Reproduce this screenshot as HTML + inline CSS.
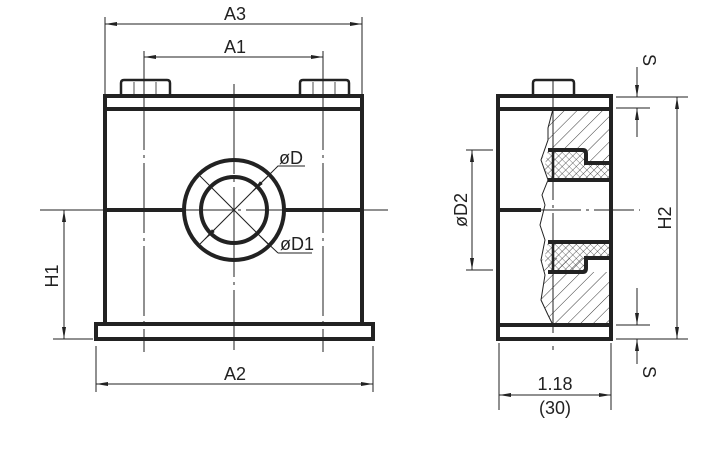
<!DOCTYPE html>
<html><head><meta charset="utf-8"><style>
html,body{margin:0;padding:0;background:#fff;}
svg{display:block;}
text{font-family:"Liberation Sans",sans-serif;fill:#222;}
</style></head><body>
<svg width="722" height="461" viewBox="0 0 722 461" xmlns="http://www.w3.org/2000/svg">
<defs>
<pattern id="h1" width="9" height="9" patternUnits="userSpaceOnUse" patternTransform="rotate(45)">
<line x1="0" y1="0" x2="0" y2="9" stroke="#222" stroke-width="0.9"/></pattern>
<pattern id="h2" width="5" height="5" patternUnits="userSpaceOnUse" patternTransform="rotate(45)">
<line x1="0" y1="0" x2="0" y2="5" stroke="#222" stroke-width="0.8"/><line x1="0" y1="0" x2="5" y2="0" stroke="#222" stroke-width="0.6"/></pattern>
<marker id="ar" markerWidth="12" markerHeight="6" refX="12" refY="3" orient="auto" markerUnits="userSpaceOnUse"><path d="M0,1 L12,3 L0,5 Z" fill="#222"/></marker>
<marker id="al" markerWidth="12" markerHeight="6" refX="0" refY="3" orient="auto" markerUnits="userSpaceOnUse"><path d="M12,1 L0,3 L12,5 Z" fill="#222"/></marker>
</defs>
<g stroke="#222" fill="none" stroke-width="1">
<line x1="105" y1="17" x2="105" y2="95"/><line x1="362" y1="17" x2="362" y2="95"/>
<line x1="105" y1="24" x2="362" y2="24" marker-start="url(#al)" marker-end="url(#ar)"/>
<line x1="144" y1="51" x2="144" y2="80"/><line x1="323" y1="51" x2="323" y2="80"/>
<line x1="144" y1="57" x2="323" y2="57" marker-start="url(#al)" marker-end="url(#ar)"/>
<line x1="96" y1="346" x2="96" y2="392"/><line x1="373" y1="346" x2="373" y2="392"/>
<line x1="96" y1="384" x2="373" y2="384" marker-start="url(#al)" marker-end="url(#ar)"/>
<line x1="53" y1="210" x2="100" y2="210"/><line x1="53" y1="339" x2="93" y2="339"/>
<line x1="64" y1="210" x2="64" y2="339" marker-start="url(#al)" marker-end="url(#ar)"/>
<line x1="144" y1="80" x2="144" y2="352" stroke-dasharray="70,5,3,5"/>
<line x1="323" y1="80" x2="323" y2="352" stroke-dasharray="70,5,3,5"/>
<line x1="234" y1="84" x2="234" y2="350" stroke-dasharray="90,5,3,5"/>
<line x1="40" y1="210" x2="388" y2="210" stroke-dasharray="90,5,3,5"/>
<line x1="200" y1="176" x2="268" y2="244"/><line x1="200" y1="244" x2="268" y2="176"/>
<line x1="253" y1="191" x2="275" y2="169"/><polyline points="275,169 278,166 305,166"/>
<line x1="215" y1="229" x2="205" y2="239" marker-end="url(#ar)"/>
<line x1="253" y1="191" x2="258" y2="186" marker-start="url(#al)"/>
<line x1="260" y1="236" x2="278" y2="253"/><line x1="278" y1="253" x2="312" y2="253"/>
</g>
<g stroke="#222" fill="none" stroke-width="4">
<rect x="105" y="96" width="257" height="228"/>
<line x1="105" y1="109" x2="362" y2="109"/>
<rect x="96" y="324" width="277" height="15"/>
<line x1="105" y1="210" x2="184" y2="210"/><line x1="284" y1="210" x2="362" y2="210"/>
<circle cx="234" cy="210" r="50"/>
<circle cx="234" cy="210" r="33"/>
</g>
<g stroke="#222" fill="none" stroke-width="2.5">
<path d="M121,95 V83 Q121,80 124,80 H167 Q170,80 170,83 V95"/>
<path d="M300,95 V83 Q300,80 303,80 H346 Q349,80 349,83 V95"/>
</g>
<g stroke="#222" stroke-width="0.8"><line x1="134" y1="82" x2="134" y2="95"/><line x1="156" y1="82" x2="156" y2="95"/><line x1="313" y1="82" x2="313" y2="95"/><line x1="335" y1="82" x2="335" y2="95"/></g>
<text x="235" y="20" font-size="18" text-anchor="middle">A3</text>
<text x="235" y="53" font-size="18" text-anchor="middle">A1</text>
<text x="235" y="380" font-size="18" text-anchor="middle">A2</text>
<text x="279" y="164" font-size="18">øD</text>
<text x="280" y="250" font-size="18">øD1</text>
<text transform="translate(58,276) rotate(-90)" font-size="18" text-anchor="middle">H1</text>

<path d="M553,109 L548,128 L548,140 L541,160 L548,150 L587,150 L587,163 L610,163 L610,109 Z" fill="url(#h1)"/>
<path d="M541,300 L545,275 L541,260 L548,258 L587,258 L587,272 L610,272 L610,325 L553,325 L548,315 Z" fill="url(#h1)"/>
<path d="M548,150 L585,150 L587,163 L610,163 L610,180 L553,180 L544,170 Z" fill="url(#h2)"/>
<path d="M548,242 L610,242 L610,258 L587,258 L585,272 L553,272 L544,260 Z" fill="url(#h2)"/>
<g stroke="#222" fill="none" stroke-width="1">
<polyline points="553,109 548,128 548,140 541,160 548,180 542,195 545,205 540,225 545,240 541,260 545,275 541,300 548,315 553,325"/>
<line x1="553" y1="80" x2="553" y2="350" stroke-dasharray="120,5,3,5"/>
<line x1="541" y1="210" x2="640" y2="210" stroke-dasharray="40,5,3,5"/>
<line x1="466" y1="150" x2="493" y2="150"/><line x1="466" y1="270" x2="493" y2="270"/>
<line x1="472" y1="150" x2="472" y2="270" marker-start="url(#al)" marker-end="url(#ar)"/>
<line x1="616" y1="97" x2="688" y2="97"/><line x1="616" y1="339" x2="688" y2="339"/>
<line x1="616" y1="108" x2="650" y2="108"/><line x1="616" y1="325" x2="650" y2="325"/>
<line x1="677" y1="97" x2="677" y2="339" marker-start="url(#al)" marker-end="url(#ar)"/>
<line x1="637" y1="67" x2="637" y2="97" marker-end="url(#ar)"/>
<line x1="637" y1="137" x2="637" y2="108" marker-end="url(#ar)"/>
<line x1="637" y1="288" x2="637" y2="325" marker-end="url(#ar)"/>
<line x1="637" y1="364" x2="637" y2="339" marker-end="url(#ar)"/>
<line x1="499" y1="343" x2="499" y2="410"/><line x1="611" y1="343" x2="611" y2="410"/>
<line x1="499" y1="395" x2="611" y2="395" marker-start="url(#al)" marker-end="url(#ar)"/>
</g>
<g stroke="#222" fill="none" stroke-width="4">
<rect x="498" y="96" width="113" height="243"/>
<line x1="498" y1="109" x2="611" y2="109"/>
<line x1="498" y1="325" x2="611" y2="325"/>
<line x1="498" y1="210" x2="541" y2="210"/>
<path d="M548,150 H583 Q586,150 586,154 V163 H610"/>
<line x1="548" y1="180" x2="610" y2="180"/>
<line x1="553" y1="150" x2="553" y2="180" stroke-width="2.5"/>
<line x1="548" y1="242" x2="610" y2="242"/>
<path d="M548,272 H583 Q586,272 586,268 V258 H610"/>
<line x1="553" y1="242" x2="553" y2="272" stroke-width="2.5"/>
</g>
<path d="M533,95 V83 Q533,80 536,80 H571 Q574,80 574,83 V95" stroke="#222" stroke-width="2.5" fill="none"/>
<text transform="translate(467,210) rotate(-90)" font-size="18" text-anchor="middle">øD2</text>
<text transform="translate(671,218) rotate(-90)" font-size="18" text-anchor="middle">H2</text>
<text transform="translate(643,60) rotate(90)" font-size="18" text-anchor="middle">S</text>
<text transform="translate(643,372) rotate(90)" font-size="18" text-anchor="middle">S</text>
<text x="555" y="390" font-size="18" text-anchor="middle">1.18</text>
<text x="555" y="414" font-size="18" text-anchor="middle">(30)</text>
</svg>
</body></html>
